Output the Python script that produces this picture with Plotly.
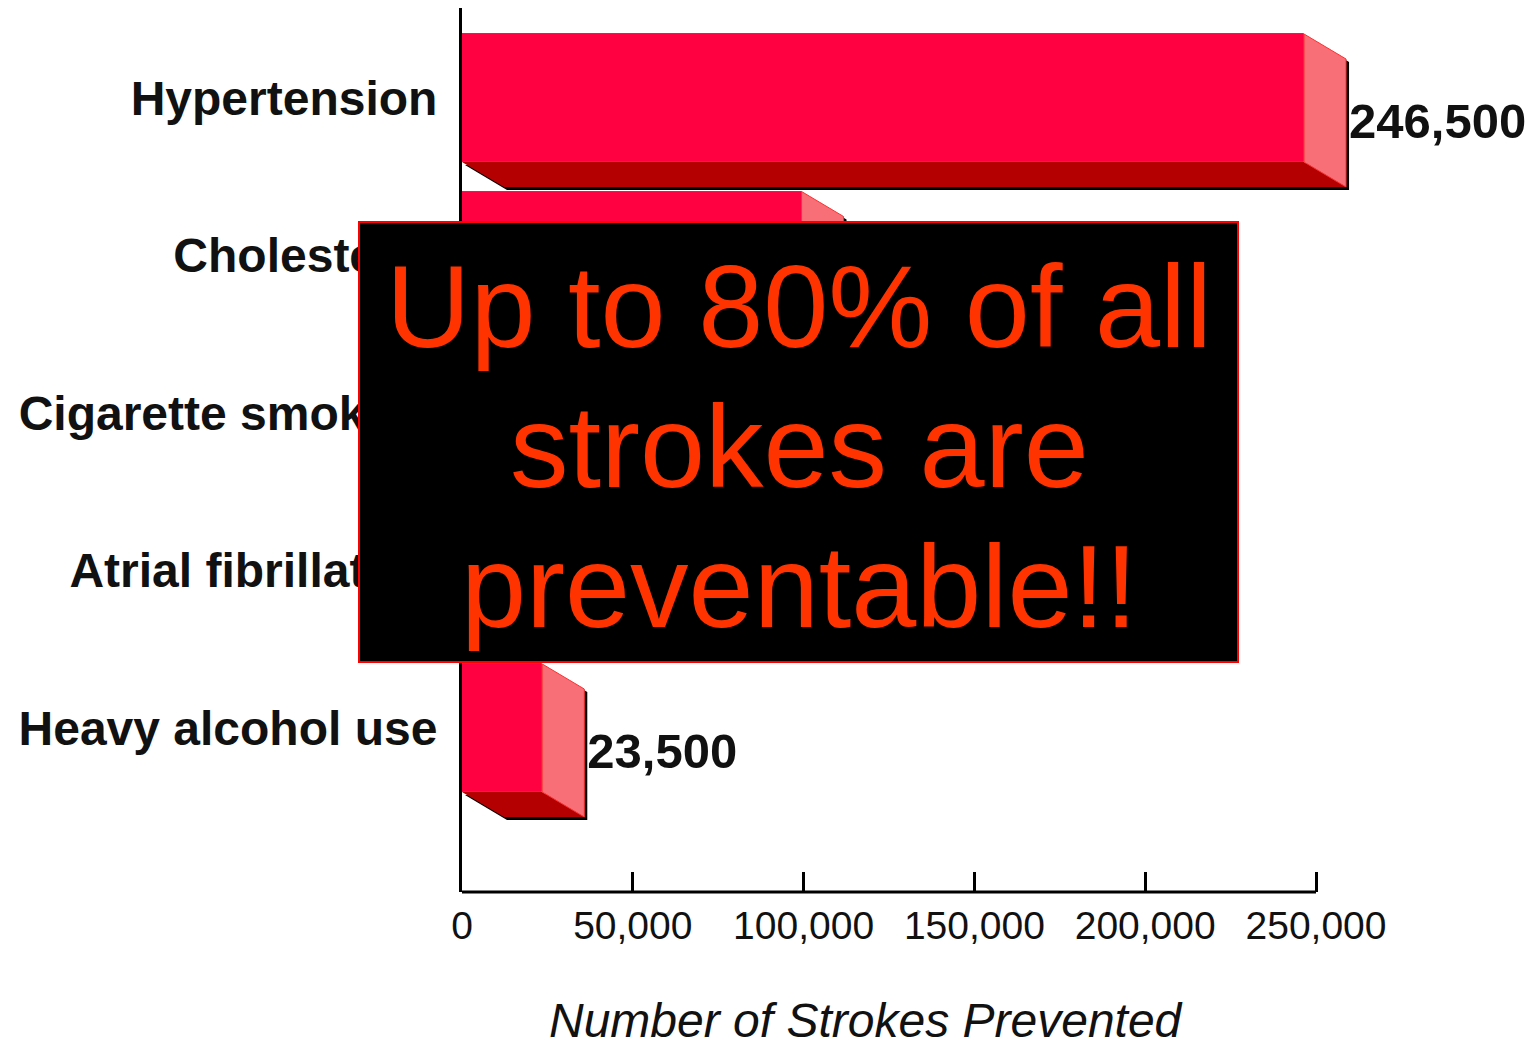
import plotly.graph_objects as go

# ---------------- data ----------------
categories = ["Hypertension", "Cholesterol", "Cigarette smoking",
              "Atrial fibrillation", "Heavy alcohol use"]
strokes_prevented = [246500, 99400, 61500, 37300, 23500]
x_tick_values = [0, 50000, 100000, 150000, 200000, 250000]
x_tick_labels = ["0", "50,000", "100,000", "150,000", "200,000", "250,000"]
axis_title = "Number of Strokes Prevented"
overlay_lines = ["Up to 80% of all", "strokes are", "preventable!!"]

# ---------------- layout geometry ----------------
FIG_W, FIG_H = 1539, 1049
M_L, M_R, M_T, M_B = 462, 39, 8, 157
PW, PH = FIG_W - M_L - M_R, FIG_H - M_T - M_B
AXIS_MAX = 250000
PX_PER_UNIT = 854 / AXIS_MAX          # 250,000 spans 854 px
X_MAX = PW / PX_PER_UNIT
CAT_PX = 157.5                         # px per category step
FIRST_CENTER_PX = 98
Y_TOP = (M_T - FIRST_CENTER_PX) / CAT_PX
Y_BOT = (M_T + PH - FIRST_CENTER_PX) / CAT_PX

def px_x(px):
    return (px - M_L) / PW

def px_y(py):
    return 1 - (py - M_T) / PH

BAR_H = 128 / CAT_PX
DX = 42 / PX_PER_UNIT
DY = 25 / CAT_PX
SX = 3 / PX_PER_UNIT
SY = 3 / CAT_PX

FRONT = "#ff0040"
SIDE = "#f86f78"
BOTTOM = "#b40000"
TEXT = "#111111"

ypos = list(range(len(categories)))

shadow_x, shadow_y = [], []
bottom_x, bottom_y = [], []
side_x, side_y = [], []
for i, v in zip(ypos, strokes_prevented):
    yt, yb = i - BAR_H / 2, i + BAR_H / 2
    shadow_x += [SX, DX + SX, v + DX + SX, v + DX + SX, v + SX, v + SX, SX, None]
    shadow_y += [yb + SY, yb + DY + SY, yb + DY + SY, yt + DY + SY, yt + SY, yb + SY, yb + SY, None]
    bottom_x += [0, DX, v + DX, v, 0, None]
    bottom_y += [yb, yb + DY, yb + DY, yb, yb, None]
    side_x += [v, v + DX, v + DX, v, v, None]
    side_y += [yt, yt + DY, yb + DY, yb, yt, None]

fig = go.Figure()
fig.add_trace(go.Bar(
    x=strokes_prevented, y=ypos, orientation="h", width=BAR_H,
    marker=dict(color=FRONT, line=dict(color="#ff1a1a", width=1)),
    hoverinfo="skip", showlegend=False))
fig.add_trace(go.Scatter(x=shadow_x, y=shadow_y, fill="toself", fillcolor="#000000",
                         mode="lines", line=dict(width=0), hoverinfo="skip", showlegend=False))
fig.add_trace(go.Scatter(x=bottom_x, y=bottom_y, fill="toself", fillcolor=BOTTOM,
                         mode="lines", line=dict(width=0), hoverinfo="skip", showlegend=False))
fig.add_trace(go.Scatter(x=side_x, y=side_y, fill="toself", fillcolor=SIDE,
                         mode="lines", line=dict(color="#ff3030", width=1),
                         hoverinfo="skip", showlegend=False))
# value labels
fig.add_trace(go.Scatter(
    x=[v + DX + SX for v in strokes_prevented], y=[i + 0.175 for i in ypos],
    mode="text", text=[f"{v:,}" for v in strokes_prevented], textposition="middle right",
    textfont=dict(family="Liberation Sans, Arial", size=49, color=TEXT, weight="bold"),
    cliponaxis=False, hoverinfo="skip", showlegend=False))

fig.update_layout(
    width=FIG_W, height=FIG_H,
    margin=dict(l=M_L, r=M_R, t=M_T, b=M_B, pad=0),
    paper_bgcolor="white", plot_bgcolor="white",
    bargap=0,
    xaxis=dict(range=[0, X_MAX], tickvals=x_tick_values, ticktext=x_tick_labels,
               showgrid=False, zeroline=False, showline=False,
               ticks="inside", ticklen=20, tickwidth=3, tickcolor="black",
               ticklabelstandoff=7,
               tickfont=dict(family="Liberation Sans, Arial", size=39, color=TEXT)),
    yaxis=dict(range=[Y_BOT, Y_TOP], tickvals=ypos, ticktext=categories,
               showgrid=False, zeroline=False, showline=True, linecolor="black",
               linewidth=3, ticks="", ticklabelstandoff=12,
               tickfont=dict(family="Liberation Sans, Arial", size=48, color=TEXT,
                             weight="bold")),
)

# x axis line from 0 to 250,000
fig.add_shape(type="line", xref="x", yref="paper", x0=0, x1=AXIS_MAX, y0=0, y1=0,
              line=dict(color="black", width=3), layer="above")

# overlay box
fig.add_shape(type="rect", xref="paper", yref="paper",
              x0=px_x(359), x1=px_x(1238), y0=px_y(662), y1=px_y(222),
              fillcolor="black", line=dict(color="#ff0000", width=2), layer="above")

line_centers_px = [306, 446, 586]
for txt, cy in zip(overlay_lines, line_centers_px):
    fig.add_annotation(text=txt, xref="paper", yref="paper", x=px_x(799), y=px_y(cy),
                       xanchor="center", yanchor="middle", showarrow=False,
                       font=dict(family="Liberation Sans, Arial", size=117, color="#ff3300"))

fig.add_annotation(text=axis_title, xref="paper", yref="paper", x=px_x(866), y=px_y(1021),
                   xanchor="center", yanchor="middle", showarrow=False,
                   font=dict(family="Liberation Sans, Arial", size=48, color=TEXT,
                             style="italic"))

fig.write_html("out.html")
